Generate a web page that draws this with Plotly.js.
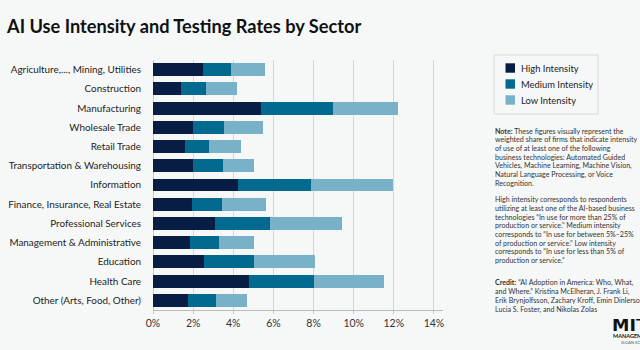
<!DOCTYPE html>
<html>
<head>
<meta charset="utf-8">
<script src="https://cdn.plot.ly/plotly-3.0.1.min.js"></script>
<style>
html,body{margin:0;padding:0;background:#f6f8f8;}
#chart{width:640px;height:350px;}
</style>
</head>
<body>
<div id="chart"></div>
<script>
const categories = [
  "Agriculture,..., Mining, Utilities",
  "Construction",
  "Manufacturing",
  "Wholesale Trade",
  "Retail Trade",
  "Transportation & Warehousing",
  "Information",
  "Finance, Insurance, Real Estate",
  "Professional Services",
  "Management & Administrative",
  "Education",
  "Health Care",
  "Other (Arts, Food, Other)"
];
const highIntensity   = [2.50, 1.38, 5.38, 2.00, 1.57, 2.00, 4.23, 1.93, 3.08, 1.85, 2.52, 4.77, 1.72];
const mediumIntensity = [1.40, 1.25, 3.59, 1.53, 1.21, 1.47, 3.62, 1.49, 2.75, 1.45, 2.50, 3.25, 1.40];
const lowIntensity    = [1.68, 1.54, 3.25, 1.94, 1.62, 1.56, 4.10, 2.21, 3.59, 1.72, 3.03, 3.51, 1.55];
const seriesNames = ["High Intensity", "Medium Intensity", "Low Intensity"];
const tickVals = [0, 2, 4, 6, 8, 10, 12, 14];
const tickText = ["0%", "2%", "4%", "6%", "8%", "10%", "12%", "14%"];

const noteLines = [
  "<b>Note:</b> These figures visually represent the",
  "weighted share of firms that indicate intensity",
  "of use of at least one of the following",
  "business technologies: Automated Guided",
  "Vehicles, Machine Learning, Machine Vision,",
  "Natural Language Processing, or Voice",
  "Recognition."
];
const highLines = [
  "High intensity corresponds to respondents",
  "utilizing at least one of the AI-based business",
  "technologies \u201cIn use for more than 25% of",
  "production or service.\u201d Medium intensity",
  "corresponds to \u201cIn use for between 5%\u201325%",
  "of production or service.\u201d Low intensity",
  "corresponds to \u201cIn use for less than 5% of",
  "production or service.\u201d"
];
const creditLines = [
  "<b>Credit:</b> \u201cAI Adoption in America: Who, What,",
  "and Where.\u201d Kristina McElheran, J. Frank Li,",
  "Erik Brynjolfsson, Zachary Kroff, Emin Dinlersoz,",
  "Lucia S. Foster, and Nikolas Zolas"
];

const colors = ["#081d44", "#026a8f", "#79b2c8"];
const FONT = "Lato, 'Open Sans', sans-serif";

// plot area geometry (pixels)
const L = 153, R = 443, T = 60, B = 310;
const X = px => (px - L) / (R - L);
const Y = py => (B - py) / (B - T);

const values = [highIntensity, mediumIntensity, lowIntensity];
const traces = values.map((v, i) => ({
  type: "bar",
  orientation: "h",
  name: seriesNames[i],
  y: categories,
  x: v,
  marker: {color: colors[i], line: {width: 0}},
  showlegend: false,
  hoverinfo: "x+y+name"
}));

const annotations = [];
const shapes = [];

function addLines(lines, startY, step) {
  lines.forEach((t, i) => {
    annotations.push({
      xref: "paper", yref: "paper",
      x: X(494), y: Y(startY + i * step),
      xanchor: "left", yanchor: "middle",
      height: 8, borderpad: 0,
      text: t, showarrow: false,
      font: {family: FONT, size: 7.1, color: "#333"}
    });
  });
}
addLines(noteLines, 130.7, 8.67);
addLines(highLines, 199.3, 8.67);
addLines(creditLines, 282, 8.9);

// legend (drawn as a boxed key)
shapes.push({
  type: "rect", xref: "paper", yref: "paper",
  x0: X(494), x1: X(598), y0: Y(55), y1: Y(114),
  line: {color: "#d9d9d9", width: 1}, fillcolor: "rgba(0,0,0,0)"
});
seriesNames.forEach((name, i) => {
  const cy = 68 + i * 16;
  shapes.push({
    type: "rect", xref: "paper", yref: "paper",
    x0: X(505.5), x1: X(515), y0: Y(cy - 4.7), y1: Y(cy + 4.7),
    line: {width: 0}, fillcolor: colors[i]
  });
  annotations.push({
    xref: "paper", yref: "paper", x: X(520), y: Y(cy),
    xanchor: "left", yanchor: "middle", showarrow: false,
    height: 12, borderpad: 0,
    text: name, font: {family: FONT, size: 9.4, color: "#222"}
  });
});

annotations.push({
  xref: "paper", yref: "paper", x: X(611), y: Y(325),
  xanchor: "left", yanchor: "middle", showarrow: false,
  height: 12, borderpad: 0,
  text: "<b>MIT</b>", font: {family: "'DejaVu Sans', sans-serif", size: 17.5, color: "#111"}
});
annotations.push({
  xref: "paper", yref: "paper", x: X(612), y: Y(336.8),
  xanchor: "left", yanchor: "middle", showarrow: false,
  height: 4.5, borderpad: 0,
  text: "<b>MANAGEMENT</b>", font: {family: FONT, size: 5.5, color: "#111"}
});
annotations.push({
  xref: "paper", yref: "paper", x: X(620), y: Y(341.8),
  xanchor: "left", yanchor: "middle", showarrow: false,
  height: 4, borderpad: 0,
  text: "SLOAN SCHOOL", font: {family: FONT, size: 4, color: "#555"}
});

const layout = {
  width: 640, height: 350,
  paper_bgcolor: "#f6f8f8",
  plot_bgcolor: "#f6f8f8",
  margin: {l: L, r: 640 - R, t: T, b: 350 - B, pad: 0},
  barmode: "stack",
  bargap: 0.325,
  showlegend: false,
  font: {family: FONT, color: "#222"},
  title: {
    text: "<b>AI Use Intensity and Testing Rates by Sector</b>",
    x: 7 / 640, xanchor: "left", xref: "container",
    y: 1 - 27 / 350, yanchor: "middle", yref: "container",
    font: {family: FONT, size: 18.2, color: "#111"}
  },
  xaxis: {
    range: [0, 14.45],
    tickvals: tickVals,
    ticktext: tickText,
    ticks: "outside", ticklen: 3, tickcolor: "#c8c8c8", tickwidth: 1,
    showgrid: true, gridcolor: "#d6d6d6", gridwidth: 1,
    zeroline: true, zerolinecolor: "#c8c8c8", zerolinewidth: 1,
    showline: true, linecolor: "#bdbdbd", linewidth: 1,
    tickfont: {family: FONT, size: 10.5, color: "#333"},
    fixedrange: true
  },
  yaxis: {
    type: "category",
    categoryorder: "array",
    categoryarray: categories,
    autorange: "reversed",
    ticks: "",
    showgrid: false,
    showline: false,
    zeroline: false,
    ticklabelstandoff: 11,
    tickfont: {family: FONT, size: 9.9, color: "#222"},
    fixedrange: true
  },
  shapes: shapes,
  annotations: annotations
};

Plotly.newPlot("chart", traces, layout, {displayModeBar: false, staticPlot: true});
</script>
</body>
</html>
